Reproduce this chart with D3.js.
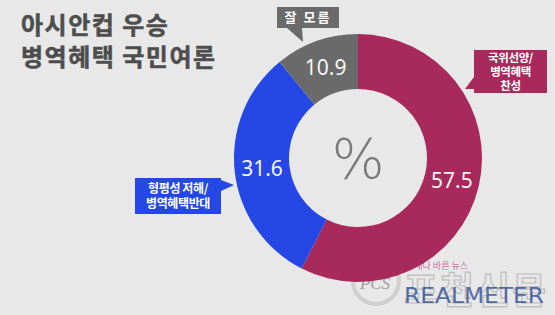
<!DOCTYPE html>
<html>
<head>
<meta charset="utf-8">
<script src="https://cdn.jsdelivr.net/npm/d3@7"></script>
<style>
  body { margin: 0; background: #e8e8e8; }
  svg { display: block; font-family: "Noto Sans CJK KR", "Noto Sans", sans-serif; }
</style>
</head>
<body>
<div id="chart"></div>
<script>
// survey data
const categories = ["국위선양/병역혜택 찬성", "형평성 저해/병역혜택반대", "잘 모름"]
const values = [57.5, 31.6, 10.9]
const colors = ["#a8295c", "#2447e6", "#6a6a6a"]
const calloutLines = [["국위선양/", "병역혜택", "찬성"], ["형평성 저해/", "병역혜택반대"], ["잘 모름"]]
const titleLines = ["아시안컵 우승", "병역혜택 국민여론"]

const width = 555, height = 315
const cx = 358, cy = 158
const outerR = 124, innerR = 69

const svg = d3.select("#chart").append("svg")
  .attr("width", width)
  .attr("height", height)

svg.append("rect").attr("width", width).attr("height", height).attr("fill", "#e8e8e8")

// title
svg.append("g").selectAll("text")
  .data(titleLines)
  .join("text")
  .attr("x", 21)
  .attr("y", (d, i) => 34 + i * 32)
  .attr("font-size", 24)
  .attr("font-weight", "bold")
  .attr("letter-spacing", 1.5)
  .attr("fill", "#4d4d4d")
  .attr("stroke", "#4d4d4d")
  .attr("stroke-width", 0.5)
  .text(d => d)

// watermark
const wm = svg.append("g").attr("opacity", 0.55)
wm.append("circle").attr("cx", 376).attr("cy", 281).attr("r", 23)
  .attr("fill", "none").attr("stroke", "#bbb").attr("stroke-width", 4)
wm.append("text").attr("x", 375).attr("y", 289).attr("text-anchor", "middle")
  .attr("font-family", "Liberation Serif").attr("font-style", "italic")
  .attr("font-size", 17).attr("fill", "#666").text("PCS")
wm.append("text").attr("x", 406).attr("y", 269).attr("font-size", 9)
  .attr("fill", "#a06").text("언제나 바른 뉴스")
wm.append("text").attr("x", 404).attr("y", 304).attr("font-size", 37)
  .attr("font-weight", "bold").attr("fill", "none").attr("stroke", "#999")
  .attr("stroke-width", 1.2).attr("textLength", 142).text("포천신문")

const pie = d3.pie().sort(null).value(d => d)
const arc = d3.arc().innerRadius(innerR).outerRadius(outerR)
const arcs = pie(values)

const g = svg.append("g").attr("transform", `translate(${cx},${cy})`)

g.selectAll("path")
  .data(arcs)
  .join("path")
  .attr("d", arc)
  .attr("fill", (d, i) => colors[i])

g.selectAll("text.val")
  .data(arcs)
  .join("text")
  .attr("class", "val")
  .attr("transform", d => `translate(${arc.centroid(d)})`)
  .attr("text-anchor", "middle")
  .attr("dy", "0.36em")
  .attr("font-family", "Noto Sans, sans-serif")
  .attr("font-size", 21)
  .attr("fill", "#f4f4f4")
  .text(d => d3.format(".1f")(d.data))

g.append("text")
  .attr("text-anchor", "middle")
  .attr("dy", "0.36em")
  .attr("font-family", "DejaVu Sans, sans-serif")
  .attr("font-size", 56)
  .attr("font-weight", 200)
  .attr("fill", "#7a7a7a")
  .text("%")

// REALMETER logo over the ring
svg.append("text").attr("x", 404).attr("y", 303).attr("font-size", 21)
  .attr("font-family", "DejaVu Sans Condensed, sans-serif")
  .attr("textLength", 140).attr("lengthAdjust", "spacingAndGlyphs")
  .attr("fill", "#2f4f95").attr("opacity", 0.8).text("REALMETER")

// callouts: box + pointer + text
const boxes = [
  { x: 474, y: 50, w: 73, h: 43, lh: 14, fs: 11.5, tail: [[474, 77], [465, 89], [474, 89]] },
  { x: 135, y: 178, w: 86, h: 36, lh: 15, fs: 12, tail: [[221, 180], [234, 185], [221, 191]] },
  { x: 277, y: 7, w: 62, h: 21, lh: 0, fs: 13, tail: [[287, 28], [303, 42], [302, 28]] }
]

const cg = svg.append("g")
boxes.forEach((b, i) => {
  cg.append("rect").attr("x", b.x).attr("y", b.y).attr("width", b.w).attr("height", b.h)
    .attr("fill", colors[i])
  cg.append("path").attr("d", d3.line()(b.tail) + "Z").attr("fill", colors[i])
  const lines = calloutLines[i]
  const startY = b.y + b.h / 2 - (lines.length - 1) * b.lh / 2
  cg.selectAll(null)
    .data(lines)
    .join("text")
    .attr("x", b.x + b.w / 2)
    .attr("y", (d, j) => startY + j * b.lh)
    .attr("dy", "0.36em")
    .attr("text-anchor", "middle")
    .attr("font-size", b.fs)
    .attr("font-weight", "bold")
    .attr("letter-spacing", i === 2 ? 2 : -0.4)
    .attr("fill", "#fff")
    .text(d => d)
})
</script>
</body>
</html>
